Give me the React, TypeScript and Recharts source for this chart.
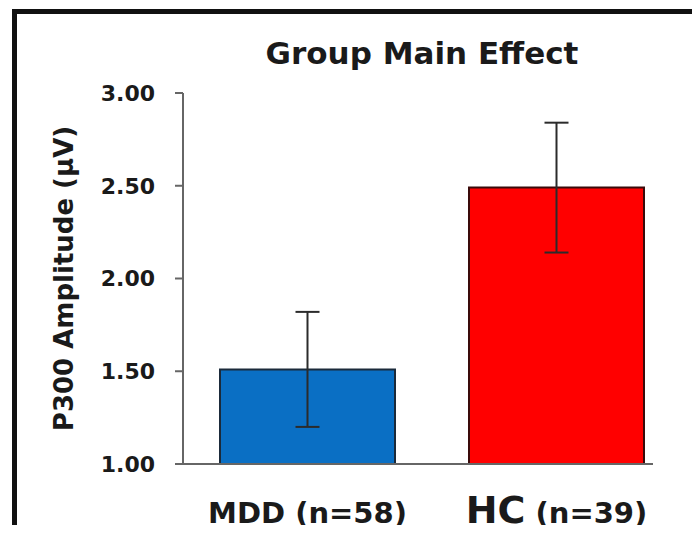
import React from 'react';
import { BarChart, Bar, XAxis, YAxis, Cell, ErrorBar } from 'recharts';

const groups = ['MDD', 'HC'];
const sampleSizes = [58, 39];
const amplitudes = [1.51, 2.49];
const errors = [0.31, 0.35];
const barColors = ['#0A6FC4', '#FF0000'];
const barOutlines = ['#1b2a3a', '#3a0a0a'];
const yTicks = [1, 1.5, 2, 2.5, 3];

const data = groups.map((group, i) => ({
  group,
  n: sampleSizes[i],
  amplitude: amplitudes[i],
  err: errors[i],
}));

const FONT = '"DejaVu Sans", Arial, sans-serif';
const AXIS = '#666';

// group name large, sample size a bit smaller
const GroupTick = (props: any) => {
  const { x, y, payload } = props;
  const row = data.find((d) => d.group === payload.value);
  const big = payload.value === 'HC';
  return (
    <text x={x} y={y + 51} textAnchor="middle" fontFamily={FONT} fontWeight="bold" fill="#1a1a1a">
      <tspan fontSize={big ? 38 : 29}>{payload.value}</tspan>
      <tspan fontSize={29}>{` (n=${row ? row.n : ''})`}</tspan>
    </text>
  );
};

const YLabel = (props: any) => {
  const vb = props.viewBox || { x: 0, y: 0, width: 0, height: 0 };
  const x = vb.x + 64;
  const y = vb.y + vb.height / 2;
  return (
    <text
      x={x}
      y={y}
      transform={`rotate(-90, ${x}, ${y})`}
      textAnchor="middle"
      dominantBaseline="central"
      fontFamily={FONT}
      fontWeight="bold"
      fontSize={26}
      fill="#1a1a1a"
    >
      P300 Amplitude (µV)
    </text>
  );
};

export default function App() {
  return (
    <div style={{ position: 'relative', width: 700, height: 533, margin: -8, overflow: 'hidden', background: '#fff' }}>
      {/* frame around the panel */}
      <div style={{ position: 'absolute', left: 12, top: 9, width: 700, height: 600, borderLeft: '5px solid #111', borderTop: '5px solid #111' }} />
      <div style={{ position: 'absolute', left: 0, top: 530, width: 700, height: 3, background: '#d0d0d0' }} />
      <div style={{ position: 'absolute', left: 697, top: 14, width: 2, height: 516, background: '#e2e2e2' }} />

      <div
        style={{
          position: 'absolute',
          left: 222,
          top: 38,
          width: 400,
          textAlign: 'center',
          fontFamily: FONT,
          fontWeight: 'bold',
          fontSize: 31,
          lineHeight: '30px',
          color: '#1a1a1a',
        }}
      >
        Group Main Effect
      </div>

      <div style={{ position: 'absolute', left: 0, top: 0 }}>
        <BarChart width={700} height={533} data={data} margin={{ top: 93, right: 47, bottom: 0, left: 0 }}>
          <XAxis
            dataKey="group"
            height={69}
            padding={{ left: 0, right: -28 }}
            tickLine={false}
            axisLine={{ stroke: AXIS, strokeWidth: 2 }}
            tick={<GroupTick />}
            interval={0}
          />
          <YAxis
            width={183}
            domain={[1, 3]}
            ticks={yTicks}
            allowDataOverflow
            tickFormatter={(v: number) => v.toFixed(2)}
            tickSize={8}
            tickMargin={20}
            axisLine={{ stroke: AXIS, strokeWidth: 2 }}
            tickLine={{ stroke: AXIS, strokeWidth: 2 }}
            tick={{ fontFamily: FONT, fontWeight: 'bold', fontSize: 22, fill: '#1a1a1a' }}
            label={{ content: <YLabel /> }}
          />
          <Bar dataKey="amplitude" barSize={175} strokeWidth={2} isAnimationActive={false}>
            {data.map((d, i) => (
              <Cell key={d.group} fill={barColors[i]} stroke={barOutlines[i]} />
            ))}
            <ErrorBar dataKey="err" width={12} stroke="#2b2b2b" strokeWidth={2} isAnimationActive={false} />
          </Bar>
        </BarChart>
      </div>
    </div>
  );
}
